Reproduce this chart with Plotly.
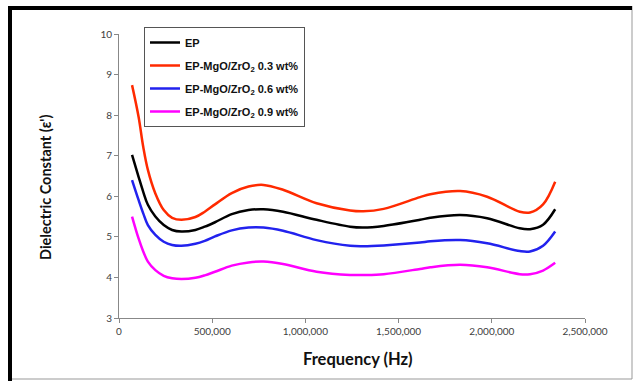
import plotly.graph_objects as go

freq = [70000, 105000, 130000, 155000, 195000, 240000, 285000, 335000, 410000, 460000,
        515000, 605000, 695000, 775000, 880000, 1060000, 1240000, 1310000, 1420000,
        1615000, 1670000, 1830000, 1975000, 2150000, 2205000, 2275000, 2340000]

ep = [7.02, 6.48, 6.11, 5.79, 5.50, 5.29, 5.17, 5.13, 5.17, 5.25,
      5.36, 5.56, 5.66, 5.68, 5.62, 5.42, 5.25, 5.23, 5.27,
      5.42, 5.47, 5.54, 5.46, 5.21, 5.19, 5.30, 5.68]

ep03 = [8.74, 7.96, 7.22, 6.65, 6.07, 5.66, 5.47, 5.42, 5.49, 5.62,
        5.80, 6.08, 6.24, 6.28, 6.16, 5.83, 5.65, 5.63, 5.69,
        5.98, 6.05, 6.13, 5.99, 5.62, 5.60, 5.80, 6.36]

ep06 = [6.40, 5.91, 5.58, 5.29, 5.05, 4.88, 4.80, 4.78, 4.83, 4.90,
        5.01, 5.16, 5.23, 5.23, 5.15, 4.92, 4.78, 4.77, 4.79,
        4.86, 4.89, 4.92, 4.84, 4.65, 4.64, 4.78, 5.13]

ep09 = [5.50, 4.96, 4.64, 4.39, 4.18, 4.04, 3.98, 3.96, 3.99, 4.05,
        4.14, 4.29, 4.37, 4.39, 4.33, 4.14, 4.06, 4.06, 4.08,
        4.21, 4.25, 4.31, 4.25, 4.08, 4.08, 4.17, 4.36]

names = ["EP",
         "EP-MgO/ZrO<sub>2</sub> 0.3 wt%",
         "EP-MgO/ZrO<sub>2</sub> 0.6 wt%",
         "EP-MgO/ZrO<sub>2</sub> 0.9 wt%"]
series = [ep, ep03, ep06, ep09]
colors = ["#000000", "#FF2A00", "#2222EE", "#FF00FF"]

fig = go.Figure()
for i, (nm, ys, c) in enumerate(zip(names, series, colors)):
    fig.add_trace(go.Scatter(x=freq, y=ys, mode="lines", name="<b>" + nm + "</b>",
                             line=dict(color=c, width=2.5, shape="spline", smoothing=1.0),
                             legendgroup="g%d" % i))

L, R, T, B = 119, 585, 34, 318
W, H = 635, 381
pw, ph = R - L, B - T

def px(x):
    return (x - L) / pw

def py(y):
    return (B - y) / ph

tickfont = dict(family="Lato, Liberation Sans, sans-serif", size=10, color="#404040")
axis_common = dict(showline=True, linecolor="#888888", linewidth=1, ticks="outside",
                   ticklen=4, tickcolor="#888888", showgrid=False, zeroline=False,
                   tickfont=tickfont)

fig.update_layout(
    width=W, height=H,
    margin=dict(l=L, r=W - R, t=T, b=H - B),
    paper_bgcolor="white", plot_bgcolor="white",
    xaxis=dict(range=[0, 2500000], dtick=500000, tick0=0, tickformat=",d", **axis_common),
    yaxis=dict(range=[3, 10], dtick=1, tick0=3, **axis_common),
    legend=dict(x=px(144), y=py(27), xanchor="left", yanchor="top",
                bordercolor="#555555", borderwidth=1, bgcolor="white",
                font=dict(family="Liberation Sans, Arial, sans-serif", size=11, color="#111111"),
                tracegroupgap=4),
    annotations=[
        dict(text="<b>Frequency (Hz)</b>", x=px(358), y=py(359), xref="paper", yref="paper",
             showarrow=False, xanchor="center", yanchor="middle",
             font=dict(family="Lato, sans-serif", size=16.5, color="#111111")),
        dict(text="<b>Dielectric Constant (ε')</b>", x=px(46), y=py(188), xref="paper", yref="paper",
             showarrow=False, xanchor="center", yanchor="middle", textangle=-90,
             font=dict(family="Lato, sans-serif", size=14.5, color="#111111")),
    ],
    shapes=[
        dict(type="line", xref="paper", yref="paper", x0=px(632), x1=px(632), y0=py(6), y1=py(379),
             line=dict(color="#999999", width=1)),
        dict(type="line", xref="paper", yref="paper", x0=px(8), x1=px(632), y0=py(379), y1=py(379),
             line=dict(color="#999999", width=1)),
        dict(type="line", xref="paper", yref="paper", x0=px(10), x1=px(10), y0=py(6), y1=py(381),
             line=dict(color="#000000", width=4)),
        dict(type="line", xref="paper", yref="paper", x0=px(8), x1=px(632), y0=py(8), y1=py(8),
             line=dict(color="#000000", width=4)),
    ],
    showlegend=True,
)

fig.write_html("out.html", config={"displayModeBar": False},
               post_script="document.body.style.margin='0';document.body.style.padding='0';")
